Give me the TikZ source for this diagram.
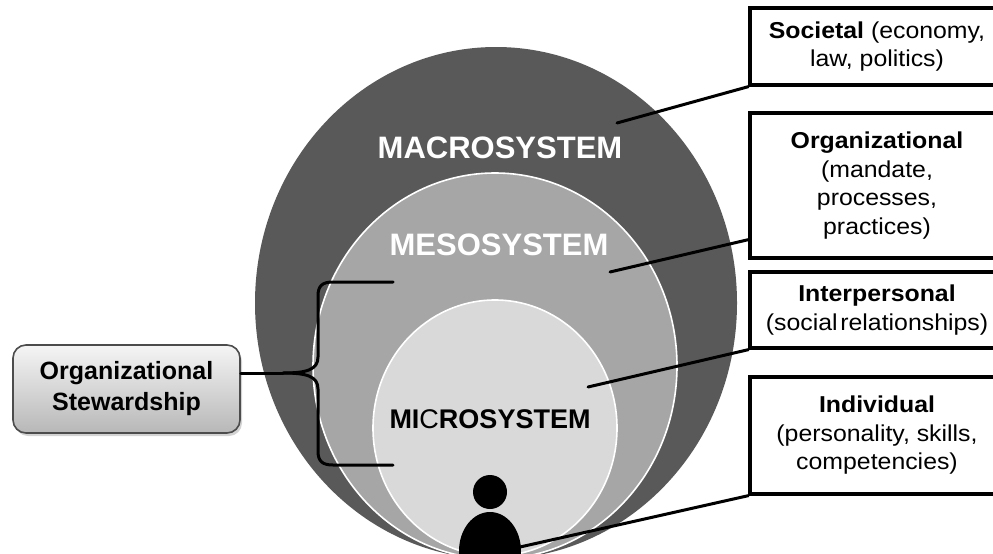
\documentclass[tikz,border=0pt]{standalone}
\usepackage{fontspec}
\setmainfont{Liberation Sans}
\newfontfamily\boxfont[FakeStretch=1.08]{Liberation Sans}
\usetikzlibrary{shadows}
\definecolor{macro}{RGB}{89,89,89}
\definecolor{meso}{RGB}{166,166,166}
\definecolor{micro}{RGB}{217,217,217}
\begin{document}
\begin{tikzpicture}[x=1pt,y=-1pt,
  conn/.style={line width=3pt, draw=black, line cap=round, line join=round},
  infobox/.style={draw=black, line width=3.3pt, fill=white, minimum width=254pt,
    align=center, inner sep=0pt, font=\boxfont\fontsize{23}{28.5}\selectfont},
  syslabel/.style={font=\bfseries\fontsize{31}{36}\selectfont, anchor=base, inner sep=0pt},
  stewbox/.style={draw=black!70, line width=1.6pt, rounded corners=13pt,
    top color=black!4, bottom color=black!28, minimum width=227pt, minimum height=88pt,
    align=center, inner sep=0pt, font=\bfseries\fontsize{25}{31}\selectfont,
    drop shadow={shadow xshift=2pt, shadow yshift=-3pt, opacity=0.35}}]
\useasboundingbox (0,0) rectangle (993,554);
\clip (0,0) rectangle (993,554);
% circles
\fill[macro] (496,303) ellipse [x radius=241pt, y radius=256pt];
\filldraw[fill=meso, draw=white, line width=1.6pt] (495,366) ellipse [x radius=182pt, y radius=193pt];
\filldraw[fill=micro, draw=white, line width=1.6pt] (495,428) ellipse [x radius=122pt, y radius=128pt];
% labels
\node[syslabel, text=white] (macro) at (500,158) {MACROSYSTEM};
\node[syslabel, text=white] (meso) at (499,255) {MESOSYSTEM};
\node[syslabel, text=black, font=\bfseries\fontsize{27}{32}\selectfont] (micro) at (490,428) {MI{\mdseries C}ROSYSTEM};
% person
\fill[black] (490,492) circle [radius=17pt];
\fill[black] (490,551) ellipse [x radius=31pt, y radius=39pt];
\coordinate (person) at (520,547);
% right boxes
\node[infobox, minimum height=77pt] (soc) at (877,46.5) {\textbf{Societal} (economy,\\law, politics)};
\node[infobox, minimum height=145pt] (org) at (877,185.5) {\textbf{Organizational}\\(mandate,\\processes,\\practices)};
\node[infobox, minimum height=76pt] (inter) at (877,310) {\textbf{Interpersonal}\\(social\hspace{0.12em}relationships)};
\node[infobox, minimum height=117pt] (ind) at (877,435.5) {\textbf{Individual}\\(personality, skills,\\competencies)};
% free ends inside circles
\coordinate (pmacro) at (617,123);
\coordinate (pmeso) at (610,272);
\coordinate (pmicro) at (588,387);
% connectors
\draw[conn] (soc.south west) -- (pmacro);
\draw[conn] ([yshift=20pt]org.south west) -- (pmeso);
\draw[conn] (inter.south west) -- (pmicro);
\draw[conn] (ind.south west) -- (person);
% stewardship
\node[stewbox] (stew) at (126.5,389) {Organizational\\Stewardship};
\coordinate (tip) at (283,373);
\coordinate (btop) at (393,282);
\coordinate (bbot) at (393,465);
\draw[conn] ([yshift=16pt]stew.east) -- (tip);
\draw[conn] (tip) .. controls (306,373) and (318,370) .. (318,357) -- (318,296)
  .. controls (318,286) and (322,282) .. (333,282) -- (btop);
\draw[conn] (tip) .. controls (306,373) and (318,376) .. (318,389) -- (318,451)
  .. controls (318,461) and (322,465) .. (333,465) -- (bbot);
\end{tikzpicture}
\end{document}
